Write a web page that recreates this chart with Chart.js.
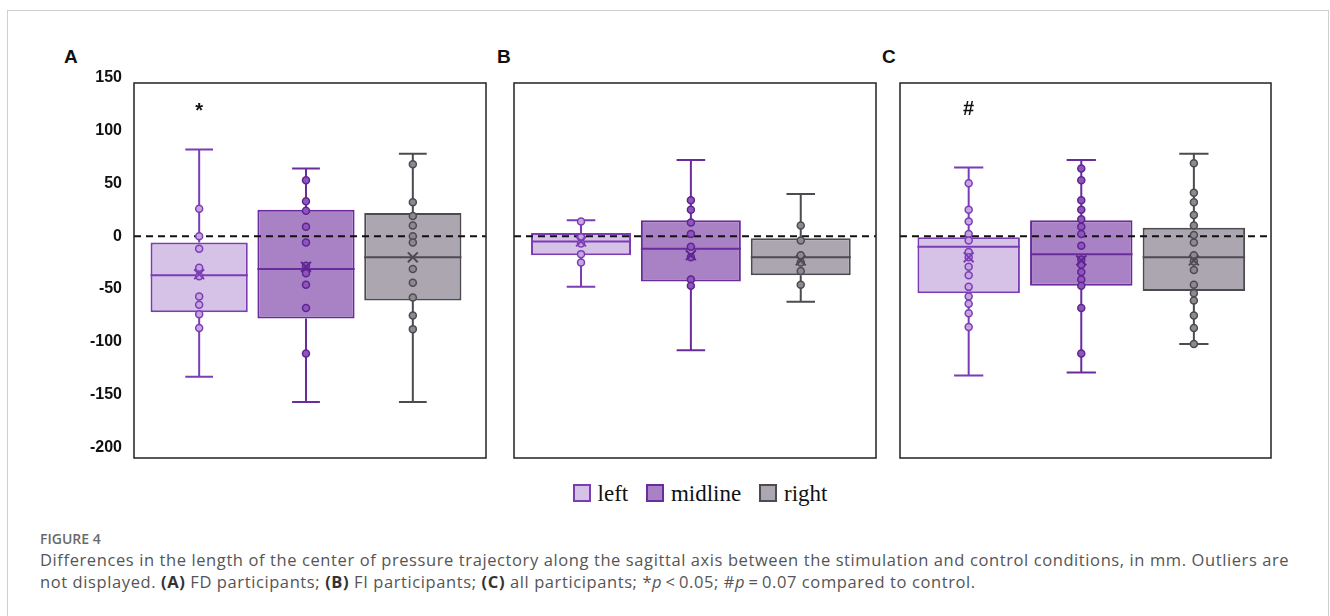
<!DOCTYPE html>
<html>
<head>
<meta charset="utf-8">
<script src="https://cdn.jsdelivr.net/npm/chart.js@4"></script>
<style>
  body { margin: 0; width: 1330px; height: 616px; background: #fff; position: relative; overflow: hidden; font-family: "Open Sans", sans-serif; }
  .frame { position: absolute; left: 7px; top: 10px; width: 1320px; height: 640px; border: 1px solid #cfcfcf; }
  .box { position: absolute; top: 60px; height: 410px; }
  .panel-label { position: absolute; top: 46px; font: bold 19px "Liberation Sans", Arial, sans-serif; color: #111; }
  .legend { position: absolute; top: 481px; left: 0; width: 1400px; text-align: center; font: 23px "Liberation Serif", serif; color: #111; }
  .legend span.item { margin: 0 6px; }
  .legend i { display: inline-block; width: 14px; height: 14px; border: 2px solid; vertical-align: -1px; margin-right: 7px; }
  .fig { position: absolute; left: 40px; top: 529px; font-size: 14px; font-weight: 600; color: #6a6a6a; }
  .caption { position: absolute; left: 40px; top: 549px; width: 1275px; font-size: 16.5px; letter-spacing: 0.6px; line-height: 22px; color: #555; }
  .caption b { color: #333; }
</style>
</head>
<body>
<div class="frame"></div>
<div class="panel-label" style="left:64px">A</div>
<div class="panel-label" style="left:497px">B</div>
<div class="panel-label" style="left:882px">C</div>
<div class="box" style="left:60px;width:435px"><canvas id="chartA"></canvas></div>
<div class="box" style="left:500px;width:385px"><canvas id="chartB"></canvas></div>
<div class="box" style="left:885px;width:395px"><canvas id="chartC"></canvas></div>
<div class="legend" id="legend"></div>
<div class="fig">FIGURE 4</div>
<div class="caption">Differences in the length of the center of pressure trajectory along the sagittal axis between the stimulation and control conditions, in mm. Outliers are not displayed. <b>(A)</b> FD participants; <b>(B)</b> FI participants; <b>(C)</b> all participants; *<i>p</i>&thinsp;&lt;&thinsp;0.05; #<i>p</i>&thinsp;=&thinsp;0.07 compared to control.</div>

<script>
//------------------ data -------------------------
const categories = ["left", "midline", "right"];
const yTicks = [-200, -150, -100, -50, 0, 50, 100, 150];

// [lower whisker, q1, median, q3, upper whisker], mean
const statsA = [[-133, -72, -37, -6, 82], [-157, -78, -31, 25, 64], [-157, -61, -20, 22, 78]];
const meansA = [-36, -29, -20];
const pointsA = [
  [26, 0, -12, -30, -38, -57, -65, -74, -87],
  [53, 33, 24, 9, -6, -28, -35, -46, -68, -111],
  [68, 32, 19, 10, 0, -6, -31, -44, -58, -75, -88]
];

const statsB = [[-48, -18, -5, 3, 15], [-108, -43, -12, 15, 72], [-62, -37, -20, -2, 40]];
const meansB = [-5, -18, -23];
const pointsB = [
  [14, -1, -7, -17, -25],
  [34, 25, 13, 2, -10, -20, -41, -47],
  [10, -4, -18, -25, -33, -46]
];

const statsC = [[-132, -54, -10, -1, 65], [-129, -47, -17, 15, 72], [-102, -52, -20, 8, 78]];
const meansC = [-20, -23, -23];
const pointsC = [
  [50, 25, 14, 2, -4, -15, -20, -29, -37, -48, -57, -64, -73, -86],
  [64, 53, 34, 25, 16, 9, 2, -9, -22, -27, -34, -41, -47, -68, -111],
  [69, 41, 32, 20, 10, 1, -6, -18, -24, -32, -46, -54, -61, -75, -87, -102]
];

//----------------- styles -------------------------
const boxFill = ["#d7c2e7", "#a982c6", "#aca6b0"];
const boxLine = ["#7b3db6", "#6a2c9c", "#4d4b50"];
const dotFill = ["#c5a6e0", "#8e55bc", "#8d8991"];
const dotLine = ["#7b3db6", "#5e2590", "#4d4b50"];
const xMin = 0.39, xMax = 3.685;
const boxHalf = 0.455, capHalf = 0.13;

//----------------- legend -------------------------
document.getElementById("legend").innerHTML = categories.map((c, i) =>
  `<span class="item"><i style="background:${boxFill[i]};border-color:${boxLine[i]}"></i>${c}</span>`).join(" ");

//----------------- plugins ------------------------
const framePlugin = {
  id: "frame",
  afterDraw(chart) {
    const a = chart.chartArea, ctx = chart.ctx;
    ctx.save();
    ctx.strokeStyle = "#222";
    ctx.lineWidth = 1.5;
    ctx.strokeRect(a.left, a.top, a.right - a.left, a.bottom - a.top);
    const mark = chart.options.plugins.frame.mark;
    if (mark) {
      ctx.fillStyle = "#111";
      ctx.font = "bold 20px 'Liberation Sans', Arial, sans-serif";
      ctx.textAlign = "center";
      ctx.textBaseline = "middle";
      ctx.fillText(mark.text, chart.scales.x.getPixelForValue(mark.x), chart.scales.y.getPixelForValue(mark.y));
    }
    ctx.restore();
  }
};

//----------------- build one panel -----------------
function makePanel(id, stats, means, points, showAxis, pad, mark) {
  const datasets = [];

  // means (on top)
  datasets.push({
    type: "scatter", order: 0,
    data: means.map((m, i) => ({ x: i + 1, y: m })),
    pointStyle: "crossRot", pointRadius: 7, pointBorderWidth: 2,
    borderColor: dotLine, backgroundColor: dotLine
  });

  // individual points
  points.forEach((vals, i) => {
    datasets.push({
      type: "scatter", order: 1,
      data: vals.map(v => ({ x: i + 1, y: v })),
      pointRadius: 3.5, pointBorderWidth: 1.5,
      backgroundColor: dotFill[i], borderColor: dotLine[i]
    });
  });

  // zero line
  datasets.push({
    type: "line", order: 2,
    data: [{ x: xMin, y: 0 }, { x: xMax, y: 0 }],
    borderColor: "#111", borderWidth: 2, borderDash: [7, 5], pointRadius: 0
  });

  // whiskers + median
  stats.forEach((s, i) => {
    const x = i + 1;
    datasets.push({
      type: "line", order: 3,
      data: [
        { x: x - capHalf, y: s[4] }, { x: x + capHalf, y: s[4] }, { x: x, y: null },
        { x: x, y: s[4] }, { x: x, y: s[3] }, { x: x, y: null },
        { x: x, y: s[1] }, { x: x, y: s[0] }, { x: x, y: null },
        { x: x - capHalf, y: s[0] }, { x: x + capHalf, y: s[0] }, { x: x, y: null },
        { x: x - boxHalf, y: s[2] }, { x: x + boxHalf, y: s[2] }
      ],
      borderColor: boxLine[i], borderWidth: 2, pointRadius: 0, spanGaps: false
    });
  });

  // boxes
  datasets.push({
    type: "bar", order: 4,
    data: stats.map((s, i) => ({ x: i + 1, y: [s[1], s[3]] })),
    backgroundColor: boxFill, borderColor: boxLine, borderWidth: 2,
    borderSkipped: false, barPercentage: 0.91, categoryPercentage: 1
  });

  return new Chart(document.getElementById(id).getContext("2d"), {
    data: { datasets: datasets },
    options: {
      responsive: true, maintainAspectRatio: false, animation: false,
      layout: { padding: pad },
      plugins: { legend: { display: false }, tooltip: { enabled: false }, frame: { mark: mark } },
      scales: {
        x: {
          type: "linear", min: xMin, max: xMax, display: false, offset: false,
          afterBuildTicks: (scale) => { scale.ticks = categories.map((c, i) => ({ value: i + 1 })); }
        },
        y: {
          type: "linear", min: -210, max: 145, display: showAxis,
          grid: { display: false, drawTicks: false }, border: { display: false },
          afterBuildTicks: (scale) => { scale.ticks = yTicks.map(v => ({ value: v })); },
          afterFit: (scale) => {
            if (showAxis) scale.width = 74;
            scale.paddingTop = 0;
            scale.paddingBottom = 0;
          },
          ticks: {
            padding: 12, color: "#111",
            font: { family: "'Liberation Sans', Arial, sans-serif", size: 16, weight: "bold" }
          }
        }
      }
    },
    plugins: [framePlugin]
  });
}

makePanel("chartA", statsA, meansA, pointsA, true, { top: 23, bottom: 12, left: 0, right: 4 }, { text: "*", x: 1, y: 118 });
makePanel("chartB", statsB, meansB, pointsB, false, { top: 23, bottom: 12, left: 14, right: 5 }, null);
makePanel("chartC", statsC, meansC, pointsC, false, { top: 23, bottom: 12, left: 15, right: 7 }, { text: "#", x: 1, y: 120 });
</script>
</body>
</html>
